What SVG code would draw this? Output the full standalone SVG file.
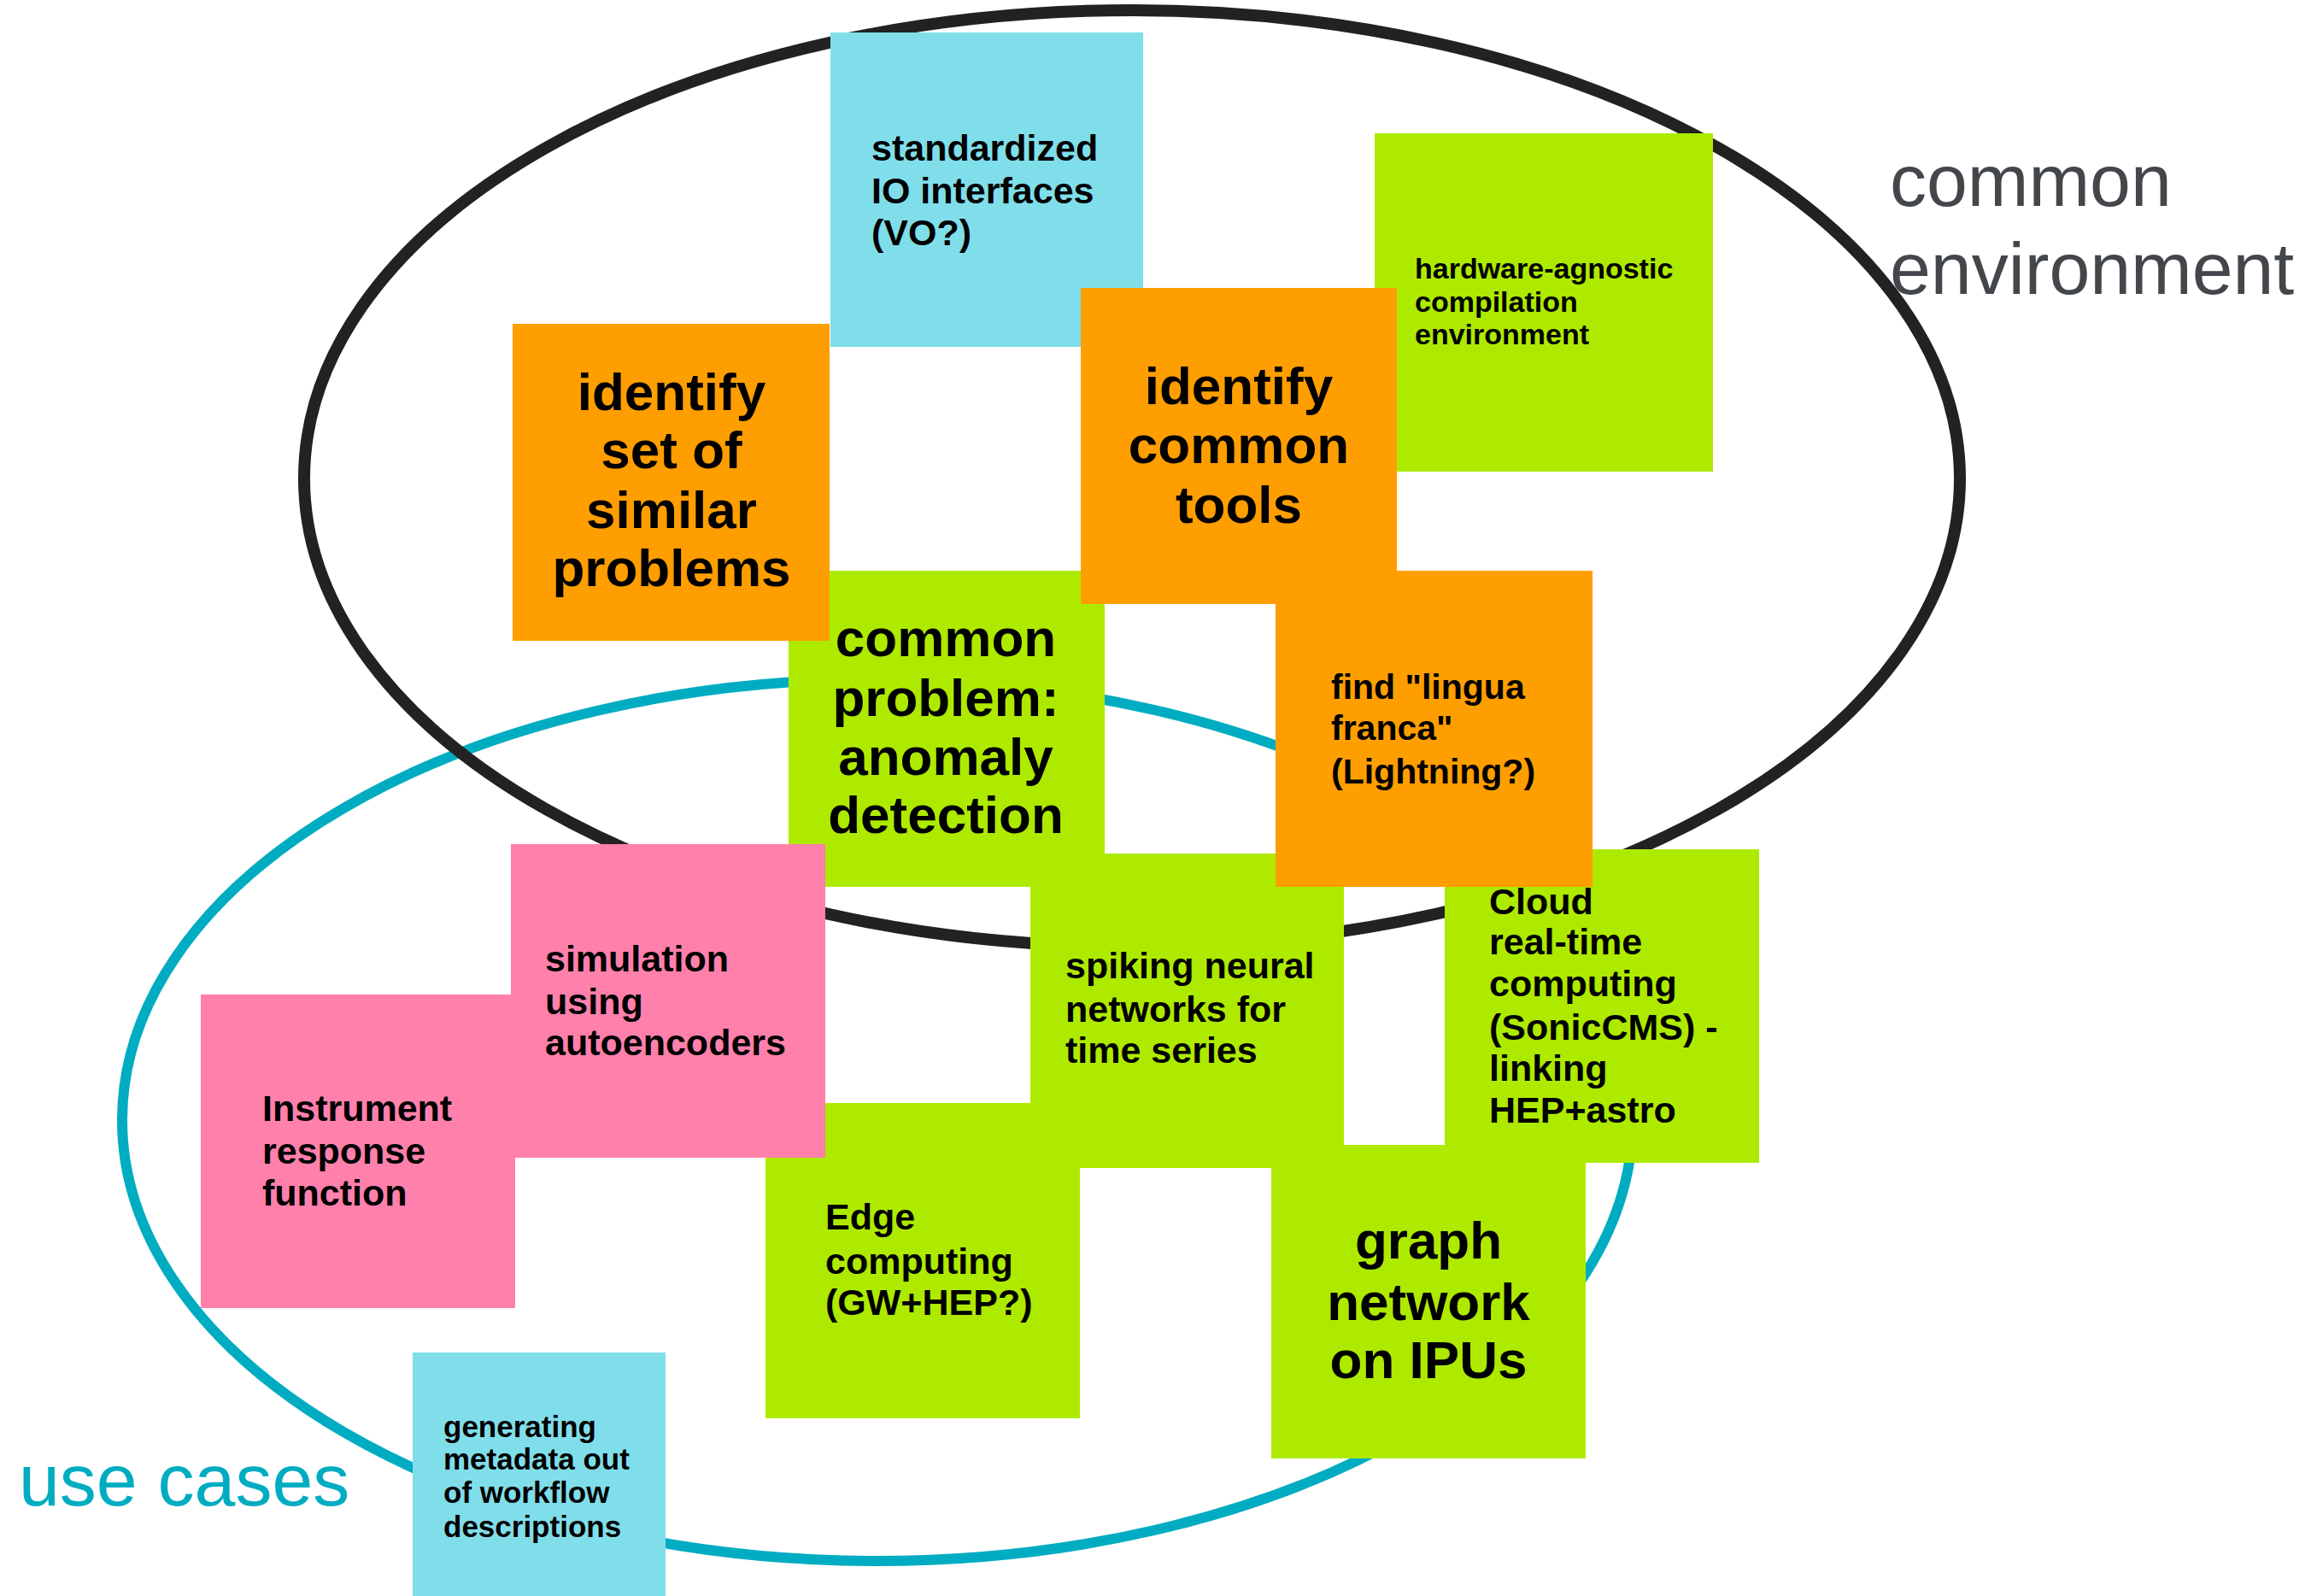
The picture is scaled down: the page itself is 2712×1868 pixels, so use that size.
<svg xmlns="http://www.w3.org/2000/svg" width="2712" height="1868" viewBox="0 0 2712 1868">
<style>
.orange{fill:#FF9E00}
.green{fill:#AEEA00}
.blue{fill:#80DEEA}
.pink{fill:#FF80AB}
.t{font-family:"Liberation Sans",Arial,sans-serif;font-weight:bold;fill:#000}
.big{font-size:62px;text-anchor:middle}
.mid{font-size:43px}
.sm{font-size:35px}
.lbl{font-family:"Liberation Sans",Arial,sans-serif;font-size:86px}
</style>
<rect width="2712" height="1868" fill="#fff"/>
<g id="regions" fill="none">
  <ellipse id="use-cases-region" cx="1027" cy="1311" rx="884" ry="516" stroke="#00ACC1" stroke-width="12"/>
  <ellipse id="common-env-region" cx="1325" cy="560" rx="969" ry="548" stroke="#222" stroke-width="14"/>
</g>
<g id="connectors"></g>
<g id="io">
  <rect class="blue" x="972" y="38" width="366" height="368"/>
  <text class="t mid" x="1020" y="188">standardized</text>
  <text class="t mid" x="1020" y="238">IO interfaces</text>
  <text class="t mid" x="1020" y="287">(VO?)</text>
</g>
<g id="hardware">
  <rect class="green" x="1609" y="156" width="396" height="396"/>
  <text class="t" font-size="34" x="1656" y="326">hardware-agnostic</text>
  <text class="t" font-size="34" x="1656" y="365">compilation</text>
  <text class="t" font-size="34" x="1656" y="403">environment</text>
</g>
<g id="anomaly">
  <rect class="green" x="923" y="668" width="370" height="370"/>
  <text class="t big" x="1107" y="768">common</text>
  <text class="t big" x="1107" y="838">problem:</text>
  <text class="t big" x="1107" y="907">anomaly</text>
  <text class="t big" x="1107" y="975">detection</text>
</g>
<g id="spiking">
  <rect class="green" x="1206" y="999" width="367" height="368"/>
  <text class="t mid" x="1247" y="1145">spiking neural</text>
  <text class="t mid" x="1247" y="1196">networks for</text>
  <text class="t mid" x="1247" y="1244">time series</text>
</g>
<g id="edge">
  <rect class="green" x="896" y="1291" width="368" height="369"/>
  <text class="t mid" x="966" y="1439">Edge</text>
  <text class="t mid" x="966" y="1491">computing</text>
  <text class="t mid" x="966" y="1539">(GW+HEP?)</text>
</g>
<g id="graph">
  <rect class="green" x="1488" y="1340" width="368" height="367"/>
  <text class="t big" x="1672" y="1473">graph</text>
  <text class="t big" x="1672" y="1545">network</text>
  <text class="t big" x="1672" y="1613">on IPUs</text>
</g>
<g id="cloud">
  <rect class="green" x="1691" y="994" width="368" height="367"/>
  <text class="t mid" x="1743" y="1070">Cloud</text>
  <text class="t mid" x="1743" y="1117">real-time</text>
  <text class="t mid" x="1743" y="1166">computing</text>
  <text class="t mid" x="1743" y="1217">(SonicCMS) -</text>
  <text class="t mid" x="1743" y="1265">linking</text>
  <text class="t mid" x="1743" y="1314">HEP+astro</text>
</g>
<g id="identify-set">
  <rect class="orange" x="600" y="379" width="371" height="371"/>
  <text class="t big" x="786" y="480">identify</text>
  <text class="t big" x="786" y="548">set of</text>
  <text class="t big" x="786" y="618">similar</text>
  <text class="t big" x="786" y="686">problems</text>
</g>
<g id="identify-tools">
  <rect class="orange" x="1265" y="337" width="370" height="370"/>
  <text class="t big" x="1450" y="473">identify</text>
  <text class="t big" x="1450" y="542">common</text>
  <text class="t big" x="1450" y="612">tools</text>
</g>
<g id="lingua">
  <rect class="orange" x="1493" y="668" width="371" height="370"/>
  <text class="t" font-size="41" x="1558" y="818">find "lingua</text>
  <text class="t" font-size="41" x="1558" y="866">franca"</text>
  <text class="t" font-size="41" x="1558" y="917">(Lightning?)</text>
</g>
<g id="simulation">
  <rect class="pink" x="598" y="988" width="368" height="367"/>
  <text class="t mid" x="638" y="1137">simulation</text>
  <text class="t mid" x="638" y="1187">using</text>
  <text class="t mid" x="638" y="1235">autoencoders</text>
</g>
<g id="instrument">
  <rect class="pink" x="235" y="1164" width="368" height="367"/>
  <text class="t mid" x="307" y="1312">Instrument</text>
  <text class="t mid" x="307" y="1362">response</text>
  <text class="t mid" x="307" y="1411">function</text>
</g>
<g id="metadata">
  <rect class="blue" x="483" y="1583" width="296" height="285"/>
  <text class="t sm" x="519" y="1682">generating</text>
  <text class="t sm" x="519" y="1720">metadata out</text>
  <text class="t sm" x="519" y="1759">of workflow</text>
  <text class="t sm" x="519" y="1799">descriptions</text>
</g>
<g id="labels">
  <text class="lbl" fill="#43464A" x="2212" y="241">common</text>
  <text class="lbl" fill="#43464A" x="2212" y="344">environment</text>
  <text class="lbl" fill="#00ACC1" x="22" y="1762">use cases</text>
</g>
</svg>
